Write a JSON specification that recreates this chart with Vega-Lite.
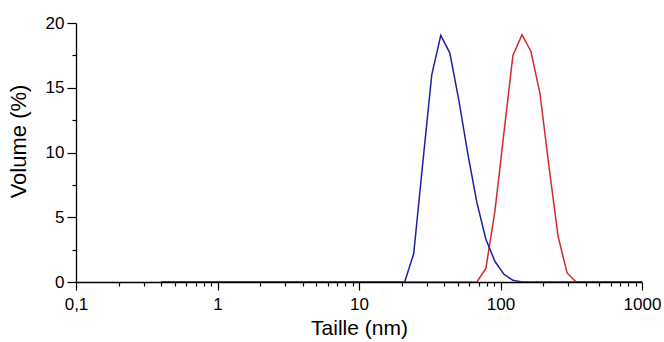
{
  "$schema": "https://vega.github.io/schema/vega-lite/v6.json",
  "width": 566,
  "height": 259,
  "autosize": "none",
  "padding": {"left": 76, "top": 23, "right": 22, "bottom": 60},
  "background": "white",
  "config": {
    "view": {"stroke": null},
    "font": "Liberation Sans",
    "axis": {
      "domainColor": "black",
      "domainWidth": 1.3,
      "tickColor": "black",
      "tickWidth": 1.2,
      "labelColor": "black",
      "titleColor": "black",
      "labelFontSize": 17,
      "titleFontWeight": "normal",
      "labelFont": "Liberation Sans",
      "titleFont": "Liberation Sans",
      "grid": false,
      "labelOverlap": false,
      "labelBound": false,
      "labelFlush": false
    }
  },
  "datasets": {
    "dist": [
      {"d": 0.4, "v": 0, "s": "B"}, {"d": 0.4632, "v": 0, "s": "B"}, {"d": 0.5365, "v": 0, "s": "B"}, {"d": 0.6213, "v": 0, "s": "B"}, {"d": 0.7195, "v": 0, "s": "B"}, {"d": 0.8332, "v": 0, "s": "B"}, {"d": 0.9649, "v": 0, "s": "B"}, {"d": 1.117, "v": 0, "s": "B"}, {"d": 1.294, "v": 0, "s": "B"}, {"d": 1.499, "v": 0, "s": "B"}, {"d": 1.736, "v": 0, "s": "B"}, {"d": 2.01, "v": 0, "s": "B"}, {"d": 2.328, "v": 0, "s": "B"}, {"d": 2.696, "v": 0, "s": "B"}, {"d": 3.122, "v": 0, "s": "B"}, {"d": 3.615, "v": 0, "s": "B"}, {"d": 4.187, "v": 0, "s": "B"}, {"d": 4.849, "v": 0, "s": "B"}, {"d": 5.615, "v": 0, "s": "B"}, {"d": 6.503, "v": 0, "s": "B"}, {"d": 7.531, "v": 0, "s": "B"}, {"d": 8.721, "v": 0, "s": "B"}, {"d": 10.1, "v": 0, "s": "B"}, {"d": 11.7, "v": 0, "s": "B"}, {"d": 13.54, "v": 0, "s": "B"}, {"d": 15.69, "v": 0, "s": "B"}, {"d": 18.17, "v": 0, "s": "B"}, {"d": 21.04, "v": 0, "s": "B"}, {"d": 24.36, "v": 0, "s": "B"}, {"d": 28.21, "v": 0, "s": "B"}, {"d": 32.67, "v": 0, "s": "B"}, {"d": 37.84, "v": 0, "s": "B"}, {"d": 43.82, "v": 0, "s": "B"}, {"d": 50.75, "v": 0, "s": "B"}, {"d": 58.77, "v": 0, "s": "B"}, {"d": 68.06, "v": 0, "s": "B"}, {"d": 78.82, "v": 1.05, "s": "B"}, {"d": 91.28, "v": 5.45, "s": "B"}, {"d": 105.7, "v": 11.5, "s": "B"}, {"d": 122.4, "v": 17.5, "s": "B"}, {"d": 141.8, "v": 19.1, "s": "B"}, {"d": 164.2, "v": 17.8, "s": "B"}, {"d": 190.1, "v": 14.55, "s": "B"}, {"d": 220.2, "v": 8.9, "s": "B"}, {"d": 255.0, "v": 3.55, "s": "B"}, {"d": 295.3, "v": 0.7, "s": "B"}, {"d": 342.0, "v": 0, "s": "B"}, {"d": 396.1, "v": 0, "s": "B"}, {"d": 458.7, "v": 0, "s": "B"}, {"d": 531.2, "v": 0, "s": "B"}, {"d": 615.1, "v": 0, "s": "B"}, {"d": 712.4, "v": 0, "s": "B"}, {"d": 825.0, "v": 0, "s": "B"}, {"d": 955.4, "v": 0, "s": "B"}, {"d": 1106, "v": 0, "s": "B"},
      {"d": 0.4, "v": 0, "s": "A"}, {"d": 0.4632, "v": 0, "s": "A"}, {"d": 0.5365, "v": 0, "s": "A"}, {"d": 0.6213, "v": 0, "s": "A"}, {"d": 0.7195, "v": 0, "s": "A"}, {"d": 0.8332, "v": 0, "s": "A"}, {"d": 0.9649, "v": 0, "s": "A"}, {"d": 1.117, "v": 0, "s": "A"}, {"d": 1.294, "v": 0, "s": "A"}, {"d": 1.499, "v": 0, "s": "A"}, {"d": 1.736, "v": 0, "s": "A"}, {"d": 2.01, "v": 0, "s": "A"}, {"d": 2.328, "v": 0, "s": "A"}, {"d": 2.696, "v": 0, "s": "A"}, {"d": 3.122, "v": 0, "s": "A"}, {"d": 3.615, "v": 0, "s": "A"}, {"d": 4.187, "v": 0, "s": "A"}, {"d": 4.849, "v": 0, "s": "A"}, {"d": 5.615, "v": 0, "s": "A"}, {"d": 6.503, "v": 0, "s": "A"}, {"d": 7.531, "v": 0, "s": "A"}, {"d": 8.721, "v": 0, "s": "A"}, {"d": 10.1, "v": 0, "s": "A"}, {"d": 11.7, "v": 0, "s": "A"}, {"d": 13.54, "v": 0, "s": "A"}, {"d": 15.69, "v": 0, "s": "A"}, {"d": 18.17, "v": 0, "s": "A"}, {"d": 21.04, "v": 0, "s": "A"}, {"d": 24.36, "v": 2.2, "s": "A"}, {"d": 28.21, "v": 9.15, "s": "A"}, {"d": 32.67, "v": 16.0, "s": "A"}, {"d": 37.84, "v": 19.05, "s": "A"}, {"d": 43.82, "v": 17.7, "s": "A"}, {"d": 50.75, "v": 14.05, "s": "A"}, {"d": 58.77, "v": 9.9, "s": "A"}, {"d": 68.06, "v": 6.15, "s": "A"}, {"d": 78.82, "v": 3.3, "s": "A"}, {"d": 91.28, "v": 1.6, "s": "A"}, {"d": 105.7, "v": 0.6, "s": "A"}, {"d": 122.4, "v": 0.13, "s": "A"}, {"d": 141.8, "v": 0, "s": "A"}, {"d": 164.2, "v": 0, "s": "A"}, {"d": 190.1, "v": 0, "s": "A"}, {"d": 220.2, "v": 0, "s": "A"}, {"d": 255.0, "v": 0, "s": "A"}, {"d": 295.3, "v": 0, "s": "A"}, {"d": 342.0, "v": 0, "s": "A"}, {"d": 396.1, "v": 0, "s": "A"}, {"d": 458.7, "v": 0, "s": "A"}, {"d": 531.2, "v": 0, "s": "A"}, {"d": 615.1, "v": 0, "s": "A"}, {"d": 712.4, "v": 0, "s": "A"}, {"d": 825.0, "v": 0, "s": "A"}, {"d": 955.4, "v": 0, "s": "A"}, {"d": 1106, "v": 0, "s": "A"}
    ]
  },
  "data": {"name": "dist"},
  "encoding": {
    "x": {
      "field": "d",
      "type": "quantitative",
      "scale": {"type": "log", "domain": [0.1, 1000], "nice": false},
      "axis": {
        "title": "Taille (nm)",
        "titleFontSize": 21,
        "values": [0.1, 0.2, 0.3, 0.4, 0.5, 0.6, 0.7, 0.8, 0.9, 1, 2, 3, 4, 5, 6, 7, 8, 9, 10, 20, 30, 40, 50, 60, 70, 80, 90, 100, 200, 300, 400, 500, 600, 700, 800, 900, 1000],
        "labelExpr": "datum.value == 0.1 ? '0,1' : (abs(log(datum.value)/LN10 - round(log(datum.value)/LN10)) < 0.001 ? format(datum.value, 'd') : '')",
        "tickSize": {"condition": {"test": "abs(log(datum.value)/LN10 - round(log(datum.value)/LN10)) < 0.001", "value": 8}, "value": 4},
        "labelPadding": 6,
        "titlePadding": 5
      }
    },
    "y": {
      "field": "v",
      "type": "quantitative",
      "scale": {"domain": [0, 20], "nice": false, "zero": true},
      "axis": {
        "title": "Volume (%)",
        "titleFontSize": 22,
        "titleY": 118,
        "values": [0, 2.5, 5, 7.5, 10, 12.5, 15, 17.5, 20],
        "labelExpr": "datum.value % 5 == 0 ? format(datum.value, 'd') : ''",
        "tickSize": {"condition": {"test": "datum.value % 5 == 0", "value": 9}, "value": 4},
        "labelPadding": 3,
        "titlePadding": 15
      }
    }
  },
  "layer": [
    {
      "transform": [{"filter": "datum.s == 'B'"}],
      "mark": {"type": "line", "color": "#d02a2e", "strokeWidth": 1.5, "clip": true}
    },
    {
      "transform": [{"filter": "datum.s == 'A'"}],
      "mark": {"type": "line", "color": "#1f1fa6", "strokeWidth": 1.5, "clip": true}
    }
  ]
}
